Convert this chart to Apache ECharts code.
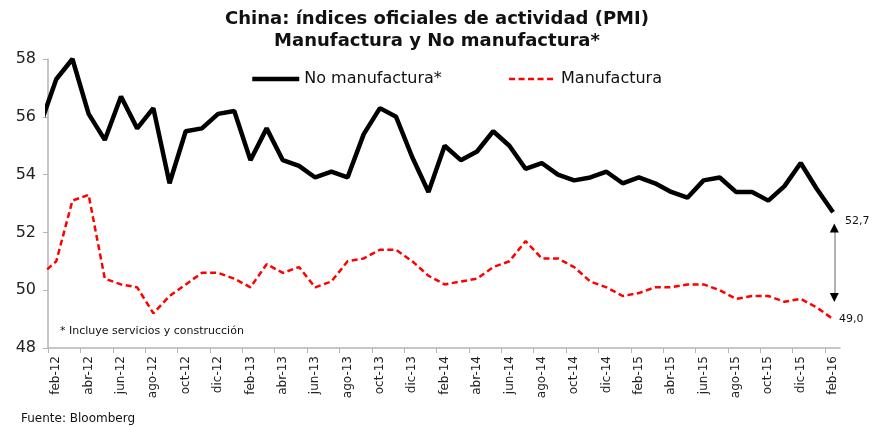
<!DOCTYPE html>
<html>
<head>
<meta charset="utf-8">
<script src="https://cdn.jsdelivr.net/npm/echarts@6/dist/echarts.min.js"></script>
<style>
  html, body { margin: 0; padding: 0; background: #fff; }
  #chart { width: 874px; height: 427px; }
</style>
</head>
<body>
<div id="chart"></div>
<script>
// meses (ene-12 .. feb-16)
var months = [
  'ene-12','feb-12','mar-12','abr-12','may-12','jun-12','jul-12','ago-12','sep-12','oct-12','nov-12','dic-12',
  'ene-13','feb-13','mar-13','abr-13','may-13','jun-13','jul-13','ago-13','sep-13','oct-13','nov-13','dic-13',
  'ene-14','feb-14','mar-14','abr-14','may-14','jun-14','jul-14','ago-14','sep-14','oct-14','nov-14','dic-14',
  'ene-15','feb-15','mar-15','abr-15','may-15','jun-15','jul-15','ago-15','sep-15','oct-15','nov-15','dic-15',
  'ene-16','feb-16'
];
// PMI no manufacturero
var noManufactura = [
  55.7, 57.3, 58.0, 56.1, 55.2, 56.7, 55.6, 56.3, 53.7, 55.5, 55.6, 56.1,
  56.2, 54.5, 55.6, 54.5, 54.3, 53.9, 54.1, 53.9, 55.4, 56.3, 56.0, 54.6,
  53.4, 55.0, 54.5, 54.8, 55.5, 55.0, 54.2, 54.4, 54.0, 53.8, 53.9, 54.1,
  53.7, 53.9, 53.7, 53.4, 53.2, 53.8, 53.9, 53.4, 53.4, 53.1, 53.6, 54.4,
  53.5, 52.7
];
// PMI manufacturero
var manufactura = [
  50.5, 51.0, 53.1, 53.3, 50.4, 50.2, 50.1, 49.2, 49.8, 50.2, 50.6, 50.6,
  50.4, 50.1, 50.9, 50.6, 50.8, 50.1, 50.3, 51.0, 51.1, 51.4, 51.4, 51.0,
  50.5, 50.2, 50.3, 50.4, 50.8, 51.0, 51.7, 51.1, 51.1, 50.8, 50.3, 50.1,
  49.8, 49.9, 50.1, 50.1, 50.2, 50.2, 50.0, 49.7, 49.8, 49.8, 49.6, 49.7,
  49.4, 49.0
];
// etiquetas cada dos meses (feb, abr, ...) y marcas entre meses
var labelIdx = [];
var tickIdx = [];
for (var i = 1; i < months.length; i += 2) { labelIdx.push(i); tickIdx.push(i - 0.5); }

function pairs(arr) { return arr.map(function (v, i) { return [i, v]; }); }
function coma(p) { return p.value[1].toFixed(1).replace('.', ','); }

var last = months.length - 1;
var FONT = 'DejaVu Sans';

var chart = echarts.init(document.getElementById('chart'));
chart.setOption({
  animation: false,
  backgroundColor: '#fff',
  title: {
    text: 'China: índices oficiales de actividad (PMI)\nManufactura y No manufactura*',
    left: 'center',
    top: 3,
    textStyle: { fontFamily: FONT, fontSize: 18, fontWeight: 'bold', color: '#111', lineHeight: 22 }
  },
  legend: {
    left: 245,
    top: 66,
    itemWidth: 47,
    itemHeight: 14,
    itemGap: 66,
    itemStyle: { opacity: 0 },
    textStyle: { fontFamily: FONT, fontSize: 16, color: '#111' },
    data: [
      { name: 'No manufactura*', lineStyle: { width: 4.5 } },
      { name: 'Manufactura', lineStyle: { width: 2.5 } }
    ]
  },
  grid: { left: 48, right: 34, top: 59, bottom: 79 },
  xAxis: {
    type: 'value',
    min: 0.49,
    max: 49.43,
    axisLine: { lineStyle: { color: '#b5b5b5', width: 1.5 } },
    axisTick: { show: true, length: 5, customValues: tickIdx, lineStyle: { color: '#b5b5b5' } },
    splitLine: { show: false },
    axisLabel: {
      customValues: labelIdx,
      rotate: 90,
      margin: 8,
      fontFamily: FONT,
      fontSize: 12,
      color: '#222',
      formatter: function (v) { return months[Math.round(v)]; }
    }
  },
  yAxis: {
    type: 'value',
    min: 48,
    max: 58,
    interval: 2,
    axisLine: { show: true, lineStyle: { color: '#b5b5b5', width: 1.5 } },
    axisTick: { show: true, length: 5, lineStyle: { color: '#b5b5b5' } },
    splitLine: { show: false },
    axisLabel: { fontFamily: FONT, fontSize: 16, color: '#222', margin: 12 }
  },
  graphic: [
    { type: 'text', left: 60, top: 326, style: { text: '* Incluye servicios y construcción', font: '11px "DejaVu Sans"', fill: '#111' } },
    { type: 'text', left: 21, top: 413, style: { text: 'Fuente: Bloomberg', font: '12px "DejaVu Sans"', fill: '#111' } }
  ],
  series: [
    {
      name: 'No manufactura*',
      type: 'line',
      data: pairs(noManufactura),
      symbol: 'none',
      clip: true,
      color: '#000',
      lineStyle: { color: '#000', width: 4.5 },
      endLabel: { show: true, formatter: coma, fontFamily: FONT, fontSize: 11, color: '#111', distance: 12, offset: [0, 9] },
      markLine: {
        silent: true,
        symbol: ['none', 'none'],
        label: { show: false },
        lineStyle: { color: '#9a9a9a', width: 1.5, type: 'solid' },
        data: [[{ coord: [last + 0.08, noManufactura[last] - 0.55] }, { coord: [last + 0.08, manufactura[last] + 0.75] }]]
      },
      markPoint: {
        silent: true,
        symbol: 'triangle',
        symbolSize: [9, 9],
        itemStyle: { color: '#000', opacity: 1 },
        label: { show: false },
        data: [
          { coord: [last + 0.08, noManufactura[last] - 0.55] },
          { coord: [last + 0.08, manufactura[last] + 0.75], symbolRotate: 180 }
        ]
      }
    },
    {
      name: 'Manufactura',
      type: 'line',
      data: pairs(manufactura),
      symbol: 'none',
      clip: true,
      color: '#ff0000',
      lineStyle: { color: '#ff0000', width: 2.5, type: [6, 3.5] },
      endLabel: { show: true, formatter: coma, fontFamily: FONT, fontSize: 11, color: '#111', distance: 6 }
    }
  ]
});
</script>
</body>
</html>
